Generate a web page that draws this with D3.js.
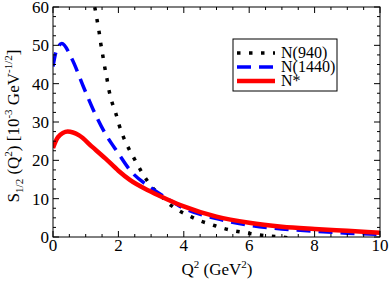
<html>
<body style="margin:0">
<svg class="chart"></svg>
<script src="https://d3js.org/d3.v7.min.js"></script>
<script>
  // N(940)
  var q940 = [1.2, 1.28, 1.35, 1.41, 1.46, 1.52, 1.58, 1.65, 1.71, 1.80, 1.92, 2.02, 2.14, 2.5, 2.75, 3.02, 3.27, 3.53, 3.85, 4.17, 4.5, 4.83, 5.19, 5.54, 5.9, 6.25, 6.6, 7.0, 7.2];
  var s940 = [63, 59.8, 56.5, 53.5, 50.5, 47.5, 44.4, 41.3, 38.4, 35.3, 32.3, 29.3, 26.4, 20.2, 16.4, 13.1, 11.0, 8.8, 6.9, 5.5, 4.2, 3.3, 2.3, 1.6, 1.1, 0.6, 0.26, 0, -0.2];
  // N(1440)
  var q1440 = [0, 0.1, 0.27, 0.57, 0.93, 1.23, 1.59, 2.0, 2.35, 3, 3.5, 4, 5, 6, 7, 8, 9, 10];
  var s1440 = [44.5, 48.5, 50.5, 46.6, 39.2, 33.2, 27.1, 21.8, 17.5, 12.8, 10.0, 7.5, 4.8, 3.1, 2.1, 1.5, 1.0, 0.7];
  // N*
  var qStar = [0, 0.15, 0.45, 0.8, 1.2, 1.6, 2.0, 2.35, 3, 3.5, 4, 5, 6, 7, 8, 9, 10];
  var sStar = [23.2, 26, 27.5, 26.5, 23.5, 20.5, 17.3, 14.9, 11.8, 9.8, 8.0, 5.3, 3.7, 2.7, 2.1, 1.6, 1.1];

  var xTicks = [0, 2, 4, 6, 8, 10];
  var yTicks = [0, 10, 20, 30, 40, 50, 60];
  var legendNames = ["N(940)", "N(1440)", "N*"];

  var width = 390, height = 281;
  var padLeft = 53, padRight = 380, padTop = 7, padBottom = 237;

  var x = d3.scaleLinear().domain([0, 10]).range([padLeft, padRight]);
  var y = d3.scaleLinear().domain([0, 60]).range([padBottom, padTop]);

  var chart = d3.select(".chart").attr("width", width).attr("height", height)
    .attr("font-family", "Liberation Serif");

  chart.append("defs").append("clipPath").attr("id", "clip")
    .append("rect").attr("x", padLeft).attr("y", padTop)
    .attr("width", padRight - padLeft).attr("height", padBottom - padTop);

  var line = d3.line()
    .x(function(d) { return x(d[0]); })
    .y(function(d) { return y(d[1]); })
    .curve(d3.curveMonotoneX);

  var series = [
    {q: q940, s: s940, color: "black", width: 3.5, dash: "3.5,8.5"},
    {q: q1440, s: s1440, color: "#0000ff", width: 3.5, dash: "14,8"},
    {q: qStar, s: sStar, color: "#ff0000", width: 4.5, dash: null}
  ];

  var plot = chart.append("g").attr("clip-path", "url(#clip)");
  series.forEach(function(sr) {
    plot.append("path")
      .datum(d3.zip(sr.q, sr.s))
      .attr("d", line)
      .attr("fill", "none")
      .attr("stroke", sr.color)
      .attr("stroke-width", sr.width)
      .attr("stroke-dasharray", sr.dash);
  });

  // frame
  chart.append("rect").attr("x", padLeft).attr("y", padTop)
    .attr("width", padRight - padLeft).attr("height", padBottom - padTop)
    .attr("fill", "none").attr("stroke", "black").attr("stroke-width", 1);

  // ticks inward on all four sides
  var minorX = d3.range(0, 10.01, 0.5);
  var minorY = d3.range(0, 60.01, 2.5);
  var tg = chart.append("g").attr("stroke", "black").attr("stroke-width", 1);
  minorX.forEach(function(v) {
    var len = (v % 2 === 0) ? 6 : 3;
    tg.append("line").attr("x1", x(v)).attr("x2", x(v)).attr("y1", padBottom).attr("y2", padBottom - len);
    tg.append("line").attr("x1", x(v)).attr("x2", x(v)).attr("y1", padTop).attr("y2", padTop + len);
  });
  minorY.forEach(function(v) {
    var len = (v % 10 === 0) ? 6 : 3;
    tg.append("line").attr("y1", y(v)).attr("y2", y(v)).attr("x1", padLeft).attr("x2", padLeft + len);
    tg.append("line").attr("y1", y(v)).attr("y2", y(v)).attr("x1", padRight).attr("x2", padRight - len);
  });

  chart.selectAll(".xl").data(xTicks).enter().append("text")
    .attr("x", function(d) { return x(d); }).attr("y", 251)
    .attr("text-anchor", "middle").attr("font-family", "Liberation Serif").attr("font-size", 17)
    .text(function(d) { return d; });
  chart.selectAll(".yl").data(yTicks).enter().append("text")
    .attr("x", 49).attr("y", function(d) { return y(d) + 6; })
    .attr("text-anchor", "end").attr("font-family", "Liberation Serif").attr("font-size", 17)
    .text(function(d) { return d; });

  // x title
  var xt = chart.append("text").attr("x", 217).attr("y", 275)
    .attr("text-anchor", "middle").attr("font-family", "Liberation Serif").attr("font-size", 17);
  xt.append("tspan").text("Q");
  xt.append("tspan").attr("dy", -7).attr("font-size", 11).text("2");
  xt.append("tspan").attr("dy", 7).text(" (GeV");
  xt.append("tspan").attr("dy", -7).attr("font-size", 11).text("2");
  xt.append("tspan").attr("dy", 7).text(")");

  // y title
  var yt = chart.append("text").attr("transform", "translate(19,126) rotate(-90)")
    .attr("text-anchor", "middle").attr("font-family", "Liberation Serif").attr("font-size", 17);
  yt.append("tspan").text("S");
  yt.append("tspan").attr("dy", 4).attr("font-size", 11).text("1/2");
  yt.append("tspan").attr("dy", -4).text(" (Q");
  yt.append("tspan").attr("dy", -7).attr("font-size", 11).text("2");
  yt.append("tspan").attr("dy", 7).text(") [10");
  yt.append("tspan").attr("dy", -7).attr("font-size", 11).text("-3");
  yt.append("tspan").attr("dy", 7).text(" GeV");
  yt.append("tspan").attr("dy", -7).attr("font-size", 11).text("-1/2");
  yt.append("tspan").attr("dy", 7).text("]");

  // legend
  var lg = chart.append("g");
  lg.append("rect").attr("x", 233).attr("y", 39).attr("width", 104).attr("height", 52)
    .attr("fill", "white").attr("stroke", "black").attr("stroke-width", 1);
  var ly = [53, 67, 81];
  series.forEach(function(sr, i) {
    lg.append("line").attr("x1", 237).attr("x2", 275).attr("y1", ly[i]).attr("y2", ly[i])
      .attr("stroke", sr.color).attr("stroke-width", sr.width).attr("stroke-dasharray", sr.dash);
    lg.append("text").attr("x", 281).attr("y", ly[i] + 5)
      .attr("font-family", "Liberation Serif").attr("font-size", 16).text(legendNames[i]);
  });
</script>
</body>
</html>
